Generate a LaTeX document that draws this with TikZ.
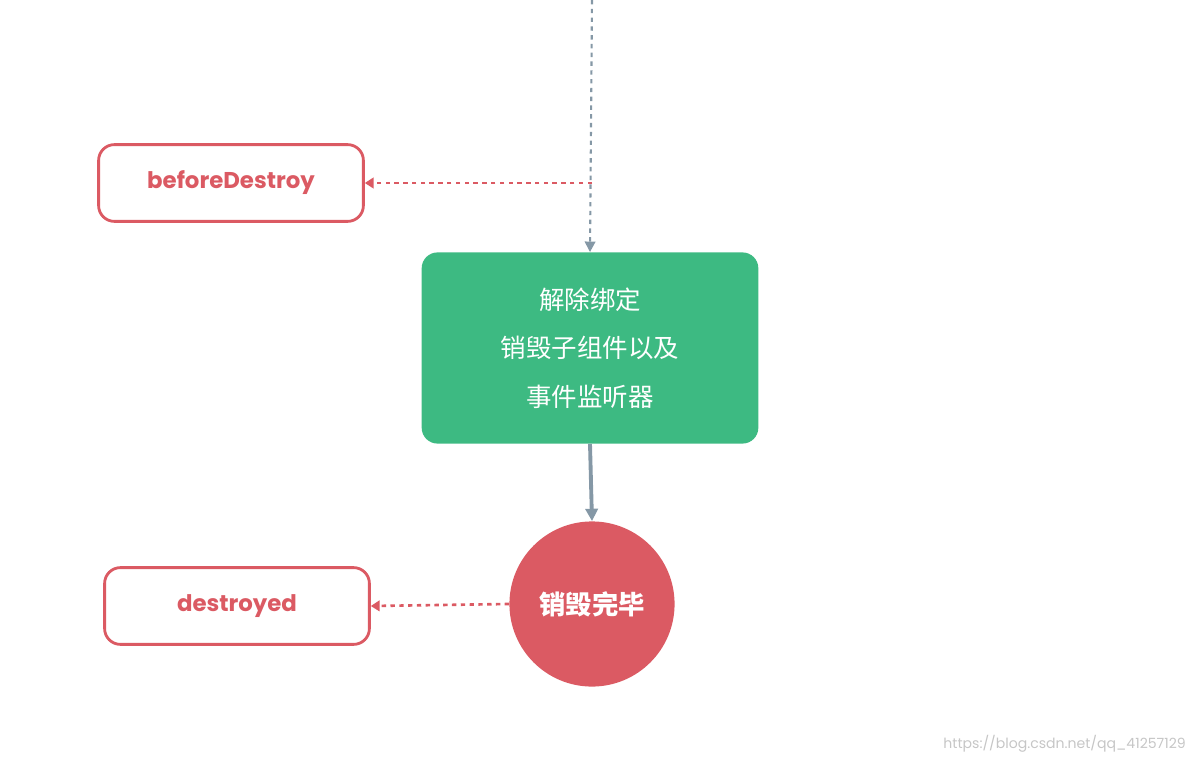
\documentclass[tikz,border=0pt]{standalone}
\usepackage{fontspec}
\setmainfont{Poppins}
\newfontfamily\cjk{Noto Sans CJK SC}
\usetikzlibrary{arrows.meta}
\definecolor{hookred}{HTML}{DB5A63}
\definecolor{flowgreen}{HTML}{3DBA82}
\definecolor{linegrey}{HTML}{8598A6}
\tikzset{
  hookbox/.style={draw=hookred,line width=1.6pt,rounded corners=9pt,fill=white,
    text=hookred,font=\bfseries\fontsize{13}{15}\selectfont,minimum width=150.7pt,minimum height=43.7pt},
  hookline/.style={hookred,line width=1.5pt,dash pattern=on 2.5pt off 2.5pt,-{Triangle[length=5pt,width=6pt]}},
  flowline/.style={linegrey,line width=1.2pt,dash pattern=on 2.5pt off 2.5pt}
}
\begin{document}
\begin{tikzpicture}[x=0.02cm,y=0.02cm]
\useasboundingbox (0,0) rectangle (1200,762);
\coordinate (top) at (592,762);
\coordinate (branch) at (592,579);
\node[hookbox] (before) at (231,579) {beforeDestroy};
\node[fill=flowgreen,rounded corners=9pt,minimum width=191.6pt,minimum height=108.8pt,
  text=white,align=center,font=\cjk\fontsize{14.5}{27.5}\selectfont] (unbind) at (590,414)
  {解除绑定\\销毁子组件以及\\事件监听器};
\node[circle,fill=hookred,minimum size=94pt,text=white,font=\cjk\bfseries\fontsize{15}{17}\selectfont]
  (done) at (592,158) {销毁完毕};
\node[hookbox] (destroyed) at (237,156) {destroyed};
\node[text=gray!45,font=\fontsize{8}{9}\selectfont,anchor=east] (mark) at (1192,18)
  {https://blog.csdn.net/qq\_41257129};
% dotted lines in
\draw[flowline,-{Triangle[length=6pt,width=6pt]}] (top) -- (unbind.north);
\draw[hookline] (branch) -- (before.east);
\draw[linegrey,line width=2.2pt,-{Triangle[length=7pt,width=7pt]}] (unbind.south) -- (done.north);
\draw[hookline] (done.west) -- (destroyed.east);
\end{tikzpicture}
\end{document}
